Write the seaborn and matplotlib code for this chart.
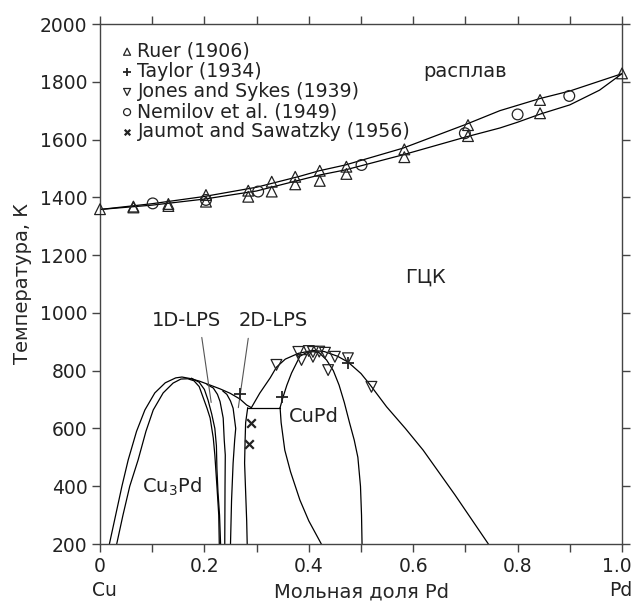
import numpy as np
import matplotlib
matplotlib.use('Agg')
import matplotlib.pyplot as plt
import matplotlib.transforms as mtransforms
import seaborn as sns
from matplotlib.ticker import MultipleLocator

# liquidus / solidus (x = mole fraction Pd, T in K)
liq_x = [0, 0.1, 0.2, 0.3, 0.383, 0.42, 0.47, 0.58, 0.703, 0.766, 0.843, 0.9, 1.0]
liq_T = [1358, 1378, 1403, 1435, 1473, 1492, 1512, 1570, 1654, 1700, 1742, 1768, 1828]
sol_x = [0, 0.1, 0.2, 0.3, 0.383, 0.42, 0.47, 0.58, 0.703, 0.766, 0.8, 0.843, 0.9, 0.957, 1.0]
sol_T = [1358, 1373, 1394, 1422, 1460, 1477, 1495, 1547, 1610, 1640, 1660, 1688, 1720, 1771, 1828]

# Cu3Pd dome and LPS boundaries
dome_out_x = [0.018, 0.03, 0.042, 0.054, 0.07, 0.086, 0.105, 0.125, 0.145, 0.157, 0.172, 0.19, 0.211, 0.23, 0.249, 0.268, 0.281, 0.29]
dome_out_T = [200, 300, 400, 491, 590, 664, 723, 758, 775, 778, 773, 764, 750, 737, 722, 702, 681, 672]
dome_in_x = [0.032, 0.044, 0.057, 0.073, 0.088, 0.102, 0.121, 0.14, 0.155, 0.168, 0.18, 0.19, 0.198, 0.205, 0.211, 0.217, 0.22, 0.224, 0.2275, 0.2285]
dome_in_T = [200, 300, 400, 491, 590, 664, 723, 757, 771, 772, 765, 745, 705, 670, 636, 567, 508, 400, 300, 200]
lps2_x = [0.175, 0.19, 0.2, 0.207, 0.214, 0.22, 0.223, 0.224, 0.226, 0.229, 0.231]
lps2_T = [774, 760, 735, 698, 650, 600, 540, 460, 380, 300, 200]
lps3_x = [0.205, 0.217, 0.225, 0.23, 0.236, 0.238, 0.24, 0.2395, 0.239]
lps3_T = [752, 740, 718, 693, 636, 560, 508, 400, 200]
lps4_x = [0.235, 0.243, 0.25, 0.255, 0.26, 0.258, 0.255, 0.252, 0.25]
lps4_T = [730, 718, 695, 670, 600, 560, 480, 350, 200]
lps5_x = [0.283, 0.279, 0.278, 0.277, 0.279, 0.281, 0.282]
lps5_T = [672, 620, 560, 480, 380, 280, 200]
tie_x = [0.283, 0.345]
tie_T = [672, 672]

# CuPd (B2) boundaries
b2_out_x = [0.29, 0.306, 0.326, 0.338, 0.355, 0.38, 0.408, 0.43, 0.455, 0.475, 0.5, 0.517, 0.549, 0.585, 0.619, 0.68, 0.744]
b2_out_T = [672, 722, 775, 812, 840, 860, 870, 866, 850, 830, 790, 752, 675, 600, 525, 370, 200]
b2_in_x = [0.345, 0.35, 0.358, 0.367, 0.383, 0.395, 0.408, 0.42, 0.434, 0.447, 0.458, 0.468, 0.478, 0.487, 0.494, 0.499, 0.501, 0.502]
b2_in_T = [672, 705, 750, 792, 850, 862, 866, 862, 837, 800, 750, 690, 620, 560, 500, 400, 300, 200]
b2_two_x = [0.345, 0.347, 0.354, 0.365, 0.383, 0.40, 0.424]
b2_two_T = [672, 620, 525, 450, 352, 280, 200]

# experimental points
ruer_x = [0, 0.064, 0.064, 0.131, 0.131, 0.203, 0.203, 0.284, 0.284, 0.329, 0.329, 0.374, 0.374,
          0.421, 0.421, 0.472, 0.472, 0.583, 0.583, 0.705, 0.705, 0.843, 0.843, 1.0]
ruer_T = [1359, 1368, 1365, 1377, 1370, 1408, 1385, 1423, 1402, 1454, 1420, 1471, 1445,
          1492, 1457, 1506, 1481, 1566, 1539, 1650, 1612, 1737, 1691, 1829]
taylor_x = [0.268, 0.348, 0.475]
taylor_T = [720, 710, 828]
jones_x = [0.338, 0.38, 0.386, 0.40, 0.408, 0.408, 0.42, 0.431, 0.437, 0.45, 0.475, 0.52]
jones_T = [820, 865, 837, 868, 865, 848, 866, 862, 802, 848, 843, 744]
nemilov_x = [0.101, 0.203, 0.303, 0.501, 0.699, 0.80, 0.899]
nemilov_T = [1379, 1391, 1420, 1512, 1622, 1687, 1751]
jaumot_x = [0.29, 0.286]
jaumot_T = [620, 546]

sns.set_style('ticks')
plt.rcParams['font.family'] = ['DejaVu Sans']
plt.rcParams['text.color'] = '#222222'
plt.rcParams['axes.edgecolor'] = '#444444'

fig = plt.figure(figsize=(6.34, 6.03), dpi=100)
ax = fig.add_axes([100 / 634, 59 / 603, 522 / 634, 520 / 603])

curves = [(liq_x, liq_T), (sol_x, sol_T), (dome_out_x, dome_out_T), (dome_in_x, dome_in_T),
          (lps2_x, lps2_T), (lps3_x, lps3_T), (lps4_x, lps4_T), (lps5_x, lps5_T), (tie_x, tie_T),
          (b2_out_x, b2_out_T), (b2_in_x, b2_in_T), (b2_two_x, b2_two_T)]
for cx, cy in curves:
    sns.lineplot(x=cx, y=cy, sort=False, estimator=None, color='black', linewidth=0.9, ax=ax)

# pointer lines for the LPS labels
ax.plot([0.195, 0.213], [915, 690], color='#555555', lw=0.8)
ax.plot([0.284, 0.265], [912, 672], color='#555555', lw=0.8)

mk = dict(ax=ax, edgecolor='#222222', linewidth=0.9, zorder=5, clip_on=False)
sns.scatterplot(x=ruer_x, y=ruer_T, marker='^', s=60, facecolor='none', label='Ruer (1906)', **mk)
sns.scatterplot(x=taylor_x, y=taylor_T, marker='+', s=65, color='#222222', label='Taylor (1934)',
                ax=ax, linewidth=1.3, zorder=5)
sns.scatterplot(x=jones_x, y=jones_T, marker='v', s=60, facecolor='none', label='Jones and Sykes (1939)', **mk)
sns.scatterplot(x=nemilov_x, y=nemilov_T, marker='o', s=60, facecolor='none', label='Nemilov et al. (1949)', **mk)
sns.scatterplot(x=jaumot_x, y=jaumot_T, marker='x', s=38, color='#222222', label='Jaumot and Sawatzky (1956)',
                ax=ax, linewidth=1.6, zorder=5)

leg = ax.legend(loc='upper left', bbox_to_anchor=(0.041, 0.966), frameon=False, fontsize=13.6,
                handlelength=0.6, handletextpad=0.25, labelspacing=0.06, borderaxespad=0,
                borderpad=0, markerscale=0.65)

ax.set_xlim(0, 1.0)
ax.set_ylim(200, 2000)
ax.set_xticks([0, 0.2, 0.4, 0.6, 0.8, 1.0])
ax.set_xticklabels(['0', '0.2', '0.4', '0.6', '0.8', '1.0'])
ax.xaxis.set_minor_locator(MultipleLocator(0.1))
ax.yaxis.set_major_locator(MultipleLocator(200))
ax.xaxis.set_ticks_position('both')
ax.yaxis.set_ticks_position('both')
ax.tick_params(which='both', direction='out', length=6, width=1.0, color='#444444',
               top=True, right=True, bottom=True, left=True, labelsize=13.5, pad=3,
               labelcolor='#222222')
for s in ax.spines.values():
    s.set_visible(True)
    s.set_linewidth(1.0)

ax.set_xlabel('Мольная доля Pd', fontsize=14, labelpad=5)
ax.set_ylabel('Температура, К', fontsize=14, labelpad=6)
ax.text(-0.015, -0.09, 'Cu', transform=ax.transAxes, fontsize=13.5, ha='left', va='center')
ax.text(1.02, -0.09, 'Pd', transform=ax.transAxes, fontsize=13.5, ha='right', va='center')

ax.text(0.70, 1834, 'расплав', fontsize=14, ha='center', va='center')
ax.text(0.623, 1125, 'ГЦК', fontsize=14, ha='center', va='center')
ax.text(0.166, 975, '1D-LPS', fontsize=14, ha='center', va='center')
ax.text(0.332, 975, '2D-LPS', fontsize=14, ha='center', va='center')
ax.text(0.137, 398, r'Cu$_\mathregular{3}$Pd', fontsize=14, ha='center', va='center')
ax.text(0.409, 641, 'CuPd', fontsize=14, ha='center', va='center')

# nudge the last tick label so it stays inside the picture
last = ax.get_xticklabels()[-1]
last.set_transform(last.get_transform() + mtransforms.ScaledTranslation(-4 / 72, 0, fig.dpi_scale_trans))

fig.savefig('out.png', dpi=100)
